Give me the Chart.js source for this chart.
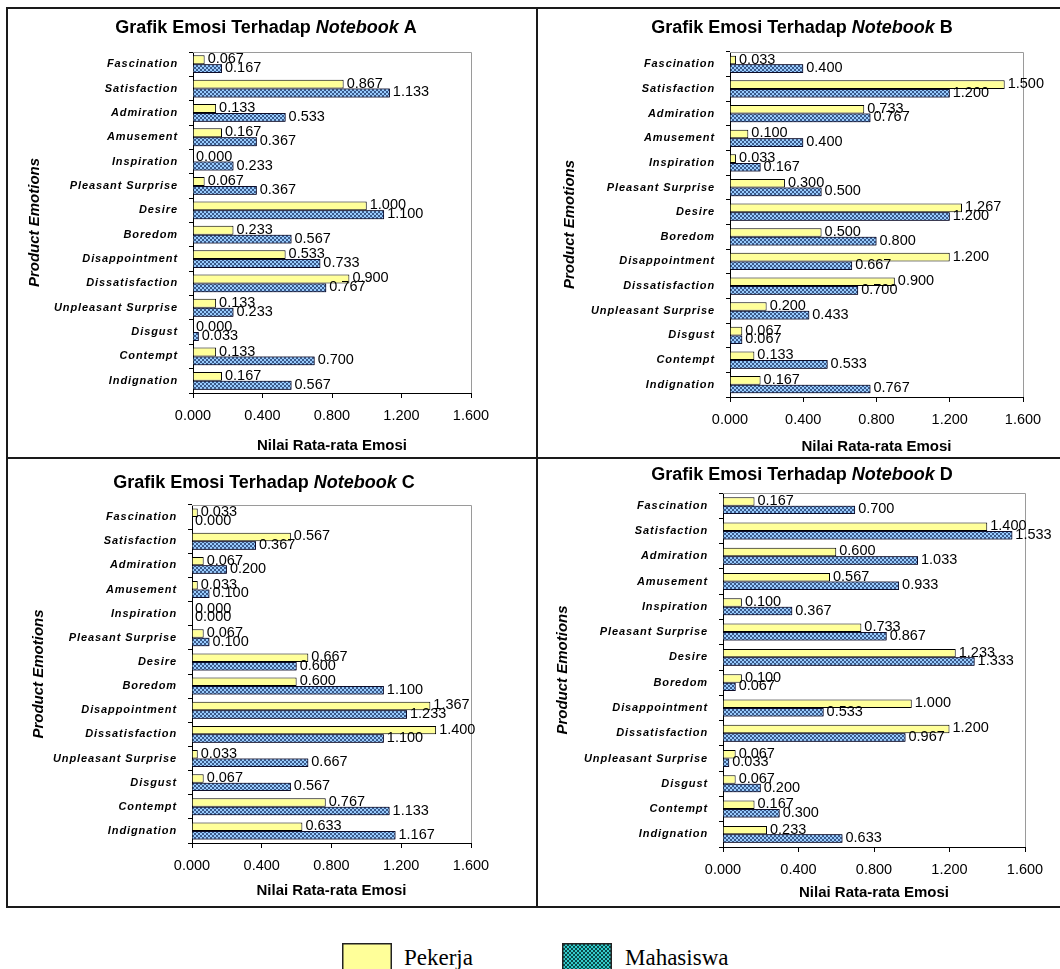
<!DOCTYPE html>
<html>
<head>
<meta charset="utf-8">
<script src="https://cdn.jsdelivr.net/npm/chart.js@4.4.1/dist/chart.umd.min.js"></script>
<style>
  html, body { margin:0; padding:0; background:#fff; }
  #wrap { position:relative; width:1060px; height:969px; overflow:hidden; background:#fff; }
  canvas { position:absolute; }
  .ln { position:absolute; background:#1a1a1a; }
  .leg { position:absolute; top:945px; font-family:"Times New Roman","Liberation Serif",serif; font-size:23px; line-height:26px; color:#000; }
</style>
</head>
<body>
<div id="wrap"></div>
<script>
// ---------- DATA ----------
const emotions = ['Fascination','Satisfaction','Admiration','Amusement','Inspiration','Pleasant Surprise','Desire','Boredom','Disappointment','Dissatisfaction','Unpleasant Surprise','Disgust','Contempt','Indignation'];
const seriesNames = ['Pekerja','Mahasiswa'];
const notebooks = ['A','B','C','D'];
const xTicks = [0, 0.4, 0.8, 1.2, 1.6];

const pekerjaA   = [0.067,0.867,0.133,0.167,0.000,0.067,1.000,0.233,0.533,0.900,0.133,0.000,0.133,0.167];
const mahasiswaA = [0.167,1.133,0.533,0.367,0.233,0.367,1.100,0.567,0.733,0.767,0.233,0.033,0.700,0.567];
const pekerjaB   = [0.033,1.500,0.733,0.100,0.033,0.300,1.267,0.500,1.200,0.900,0.200,0.067,0.133,0.167];
const mahasiswaB = [0.400,1.200,0.767,0.400,0.167,0.500,1.200,0.800,0.667,0.700,0.433,0.067,0.533,0.767];
const pekerjaC   = [0.033,0.567,0.067,0.033,0.000,0.067,0.667,0.600,1.367,1.400,0.033,0.067,0.767,0.633];
const mahasiswaC = [0.000,0.367,0.200,0.100,0.000,0.100,0.600,1.100,1.233,1.100,0.667,0.567,1.133,1.167];
const pekerjaD   = [0.167,1.400,0.600,0.567,0.100,0.733,1.233,0.100,1.000,1.200,0.067,0.067,0.167,0.233];
const mahasiswaD = [0.700,1.533,1.033,0.933,0.367,0.867,1.333,0.067,0.533,0.967,0.033,0.200,0.300,0.633];

const titlePrefix = 'Grafik Emosi Terhadap ';
const titleItalic = 'Notebook';
const xTitle = 'Nilai Rata-rata Emosi';
const yTitle = 'Product Emotions';

// ---------- LAYOUT (page coordinates) ----------
const layouts = [
  {panel:[7,8,530,450],   area:[193,52,471,393],  title:[266,28],  tickY:416, xTitleY:446, yTitleX:35,  cat:0.73},
  {panel:[537,8,523,450], area:[730,52,1023,397], title:[802,28],  tickY:420, xTitleY:447, yTitleX:570, cat:0.70},
  {panel:[7,458,530,449], area:[192,505,471,843], title:[264,483], tickY:866, xTitleY:891, yTitleX:39,  cat:0.70},
  {panel:[537,458,523,449],area:[723,493,1025,847],title:[802,475], tickY:870, xTitleY:893, yTitleX:563, cat:0.67}
];
const allSeries = [[pekerjaA,mahasiswaA],[pekerjaB,mahasiswaB],[pekerjaC,mahasiswaC],[pekerjaD,mahasiswaD]];

const FONT = "Arial, 'Liberation Sans', sans-serif";
Chart.defaults.font.family = FONT;
Chart.defaults.color = '#000';

function makePattern(base, dark) {
  const c = document.createElement('canvas');
  c.width = 4; c.height = 4;
  const g = c.getContext('2d');
  g.fillStyle = base; g.fillRect(0,0,4,4);
  g.fillStyle = dark;
  [[0,0],[1,1],[2,2],[3,3],[3,0],[2,1],[1,2],[0,3]].forEach(([x,y]) => g.fillRect(x,y,1,1));
  return g.createPattern(c, 'repeat');
}
const blueHatch = makePattern('#99CCFF', '#3A5A8A');
const tealHatch = makePattern('#33CCCC', '#0A4A4A');

const fmt = v => Number(v).toFixed(3);

const framePlugin = {
  id: 'frame',
  beforeDatasetsDraw(chart) {
    const {left, top, right, bottom} = chart.chartArea;
    const ctx = chart.ctx;
    ctx.save();
    ctx.strokeStyle = '#9a9a9a';
    ctx.lineWidth = 1;
    ctx.beginPath();
    ctx.moveTo(left, top + 0.5);
    ctx.lineTo(Math.round(right) + 0.5, top + 0.5);
    ctx.lineTo(Math.round(right) + 0.5, bottom);
    ctx.stroke();
    ctx.restore();
  }
};

const spacingPlugin = {
  id: 'spacing',
  beforeDraw(chart) {
    const y = chart.scales.y;
    if (y && !y._lsPatched) {
      const orig = y.drawLabels;
      y.drawLabels = function(area) {
        const c = this.ctx;
        c.save();
        c.letterSpacing = '0.9px';
        orig.call(this, area);
        c.restore();
      };
      y._lsPatched = true;
    }
  }
};

const valueLabelPlugin = {
  id: 'valueLabels',
  afterDatasetsDraw(chart) {
    const ctx = chart.ctx;
    const drawLabels = (di) => {
      const meta = chart.getDatasetMeta(di);
      const vals = chart.data.datasets[di].data;
      ctx.save();
      ctx.font = '14.5px ' + FONT;
      ctx.fillStyle = '#000';
      ctx.textAlign = 'left';
      ctx.textBaseline = 'middle';
      meta.data.forEach((el, i) => ctx.fillText(fmt(vals[i]), el.x + 3, el.y - 0.5));
      ctx.restore();
    };
    drawLabels(0);
    // Mahasiswa bars are painted over the Pekerja labels, as in the original
    const metaM = chart.getDatasetMeta(1);
    metaM.data.forEach(el => el.draw(ctx, chart.chartArea));
    drawLabels(1);
  }
};

const titlePlugin = {
  id: 'mixedTitle',
  afterDraw(chart, args, opts) {
    const ctx = chart.ctx;
    const parts = [
      {t: titlePrefix, f: 'bold 18px ' + FONT},
      {t: titleItalic, f: 'italic bold 18px ' + FONT},
      {t: ' ' + opts.letter, f: 'bold 18px ' + FONT}
    ];
    ctx.save();
    let total = 0;
    parts.forEach(p => { ctx.font = p.f; p.w = ctx.measureText(p.t).width; total += p.w; });
    let x = opts.cx - total / 2;
    ctx.fillStyle = '#000';
    ctx.textBaseline = 'middle';
    ctx.textAlign = 'left';
    parts.forEach(p => { ctx.font = p.f; ctx.fillText(p.t, x, opts.cy); x += p.w; });
    ctx.restore();
  }
};

const wrap = document.getElementById('wrap');

layouts.forEach((g, k) => {
  const [px, py, pw, ph] = g.panel;
  const [L, T, R, B] = g.area;
  const cv = document.createElement('canvas');
  cv.width = pw; cv.height = ph;
  cv.style.left = px + 'px'; cv.style.top = py + 'px';
  cv.style.width = pw + 'px'; cv.style.height = ph + 'px';
  wrap.appendChild(cv);

  const tickFont = 14.5, xTitleFont = 15, yTitleFont = 15;
  const yW = L - px;
  const xH = py + ph - B;
  const tickPad = (g.tickY - B) - 5 - tickFont * 1.2 / 2;
  const xTitlePad = (py + ph - g.xTitleY) - xTitleFont * 1.2 / 2;
  const yTitlePad = (g.yTitleX - px) - yTitleFont * 1.2 / 2;

  new Chart(cv, {
    type: 'bar',
    data: {
      labels: emotions,
      datasets: [
        {label: seriesNames[0], data: allSeries[k][0], backgroundColor: '#FFFF99', borderColor: '#000', borderWidth: 1},
        {label: seriesNames[1], data: allSeries[k][1], backgroundColor: blueHatch, borderColor: '#0d0d2a', borderWidth: 1}
      ]
    },
    options: {
      indexAxis: 'y',
      responsive: false,
      animation: false,
      devicePixelRatio: 1,
      layout: {padding: {left: 0, top: T - py, right: px + pw - R, bottom: 0}},
      datasets: {bar: {categoryPercentage: g.cat, barPercentage: 1}},
      plugins: {
        legend: {display: false},
        tooltip: {enabled: false},
        title: {display: false},
        mixedTitle: {letter: notebooks[k], cx: g.title[0] - px, cy: g.title[1] - py}
      },
      scales: {
        x: {
          min: xTicks[0], max: xTicks[xTicks.length - 1],
          afterBuildTicks: s => { s.ticks = xTicks.map(v => ({value: v})); },
          ticks: {callback: v => fmt(v), padding: tickPad, font: {size: tickFont}, color: '#000', maxRotation: 0, autoSkip: false},
          grid: {drawOnChartArea: false, tickLength: 5, color: '#000', lineWidth: 1},
          border: {color: '#000', width: 1},
          title: {display: true, text: xTitle, font: {size: xTitleFont, weight: 'bold'}, color: '#000', padding: {top: 0, bottom: xTitlePad}},
          afterFit: s => { s.height = xH; }
        },
        y: {
          ticks: {font: {size: 11, weight: 'bold', style: 'italic'}, padding: 11, color: '#000', autoSkip: false},
          grid: {drawOnChartArea: false, tickLength: 4, color: '#000', offset: true},
          border: {color: '#000', width: 1},
          title: {display: true, text: yTitle, font: {size: yTitleFont, weight: 'bold', style: 'italic'}, color: '#000', padding: {top: yTitlePad, bottom: 0}},
          afterFit: s => { s.width = yW; }
        }
      }
    },
    plugins: [framePlugin, spacingPlugin, valueLabelPlugin, titlePlugin]
  });
});

// panel border lines
[[7,7,1053,2],[7,457,1053,2],[7,906,1053,2],[6,7,2,901],[536,7,2,901]].forEach(([x,y,w,h]) => {
  const d = document.createElement('div');
  d.className = 'ln';
  d.style.left = x + 'px'; d.style.top = y + 'px'; d.style.width = w + 'px'; d.style.height = h + 'px';
  wrap.appendChild(d);
});

// shared legend
function swatch(x, fill) {
  const c = document.createElement('canvas');
  c.width = 50; c.height = 27;
  c.style.left = x + 'px'; c.style.top = '943px';
  const g = c.getContext('2d');
  g.fillStyle = fill; g.fillRect(0, 0, 50, 27);
  g.strokeStyle = '#222'; g.lineWidth = 1.5; g.strokeRect(0.75, 0.75, 48.5, 30);
  wrap.appendChild(c);
}
swatch(342, '#FFFF99');
swatch(562, tealHatch);
[[404, seriesNames[0]], [625, seriesNames[1]]].forEach(([x, t]) => {
  const d = document.createElement('div');
  d.className = 'leg'; d.style.left = x + 'px'; d.textContent = t;
  wrap.appendChild(d);
});
</script>
</body>
</html>
